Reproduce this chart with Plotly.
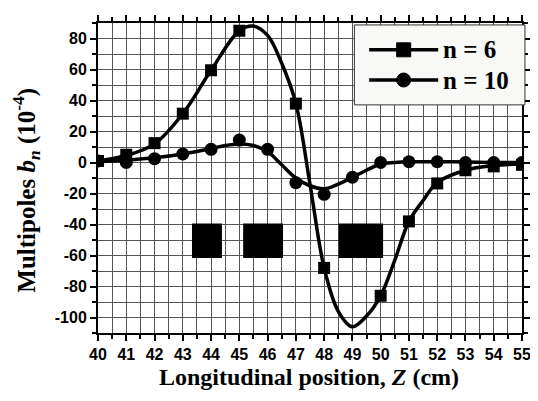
import plotly.graph_objects as go

# ---- data ----
z_n6 = [40, 41, 42, 43, 44, 45, 47, 48, 50, 51, 52, 53, 54, 55]
b_n6 = [1, 5, 12.5, 31.5, 59.5, 85, 38, -68, -86, -38, -13.5, -5, -2.5, -1.5]
z_n6_fit = [40, 41, 42, 43, 44, 45, 45.5, 46, 46.5, 47, 47.5, 48, 48.5, 49, 49.5, 50, 50.5, 51, 51.5, 52, 53, 54, 55]
b_n6_fit = [1, 4.5, 12, 31.5, 59.5, 85, 88, 82, 64, 38, -14, -68, -96, -106, -99, -86, -63, -38, -24.5, -13, -5, -2, -1]

z_n10 = [40, 41, 42, 43, 44, 45, 46, 47, 48, 49, 50, 51, 52, 53, 54, 55]
b_n10 = [1, 0, 2.5, 5.5, 8.5, 14.5, 8.5, -13, -20.5, -9.5, 0, 0.5, 0.5, 0, 0, 0]
z_n10_fit = [40, 41, 42, 43, 44, 44.5, 45, 45.5, 46, 46.5, 47, 47.5, 48, 48.5, 49, 49.5, 50, 50.5, 51, 52, 53, 54, 55]
b_n10_fit = [0.5, 1.5, 3, 5.5, 9, 11, 12, 11, 7, -1.5, -10, -15, -17, -14, -9.5, -5, -1, 0, 0.5, 0.5, 0.3, 0, 0]

# magnet blocks (z start, z end) and vertical extent
block_z_start = [43.36, 45.17, 48.55]
block_z_end = [44.35, 46.51, 50.05]
block_b_low = -61
block_b_high = -40

# tick labels
x_tick_vals = list(range(40, 56))
x_tick_text = [str(v) for v in x_tick_vals]
y_tick_vals = [80, 60, 40, 20, 0, -20, -40, -60, -80, -100]
y_tick_text = ["80", "60", "40", "20", "0", "-20", "-40", "-60", "-80", "-100"]

legend_names = ["n = 6", "n = 10"]

fig = go.Figure()

fig.add_trace(go.Scatter(x=z_n6_fit, y=b_n6_fit, mode="lines",
                         line=dict(color="black", width=3.5, shape="spline", smoothing=1.0),
                         showlegend=False, hoverinfo="skip"))
fig.add_trace(go.Scatter(x=z_n10_fit, y=b_n10_fit, mode="lines",
                         line=dict(color="black", width=3.5, shape="spline", smoothing=1.0),
                         showlegend=False, hoverinfo="skip"))
fig.add_trace(go.Scatter(x=z_n6, y=b_n6, mode="markers",
                         marker=dict(symbol="square", size=12, color="black"),
                         name=legend_names[0], showlegend=False))
fig.add_trace(go.Scatter(x=z_n10, y=b_n10, mode="markers",
                         marker=dict(symbol="circle", size=13, color="black"),
                         name=legend_names[1], showlegend=False))

shapes = []
for a, b in zip(block_z_start, block_z_end):
    shapes.append(dict(type="rect", xref="x", yref="y", x0=a, x1=b,
                       y0=block_b_low, y1=block_b_high,
                       fillcolor="black", line=dict(color="black", width=2), layer="above"))

# page offset from default body margin
OFF = 8
W, H = 538, 401
PL, PR, PT, PB = 98, 528, 15, 333  # plot area in page pixels


def px(x):
    return (x - PL) / (PR - PL)


def py(y):
    return (PB - y) / (PB - PT)


shapes.append(dict(type="rect", xref="paper", yref="paper",
                   x0=px(358), x1=px(531), y0=py(99), y1=py(17),
                   fillcolor="#f8f8f6", line=dict(color="#333333", width=1), layer="above"))
rows = [42.5, 73.5]
for i, ry in enumerate(rows):
    shapes.append(dict(type="line", xref="paper", yref="paper",
                       x0=px(373), x1=px(443), y0=py(ry), y1=py(ry),
                       line=dict(color="black", width=3.5), layer="above"))
    shapes.append(dict(type="rect" if i == 0 else "circle", xref="paper", yref="paper",
                       xsizemode="pixel", ysizemode="pixel",
                       xanchor=px(408), yanchor=py(ry),
                       x0=-7, x1=7, y0=-7, y1=7,
                       fillcolor="black", line=dict(color="black", width=1), layer="above"))

annotations = []
for i, ry in enumerate(rows):
    annotations.append(dict(xref="paper", yref="paper", x=px(446), y=py(ry),
                            xanchor="left", yanchor="middle", showarrow=False,
                            text="<b>%s</b>" % legend_names[i],
                            font=dict(family="Liberation Serif, Times New Roman, serif",
                                      size=25, color="black")))

annotations.append(dict(xref="paper", yref="paper", x=px(312), y=py(378),
                        xanchor="center", yanchor="middle", showarrow=False,
                        text="<b>Longitudinal position, <i>Z</i> (cm)</b>",
                        font=dict(family="Liberation Serif, Times New Roman, serif",
                                  size=24, color="black")))
annotations.append(dict(xref="paper", yref="paper", x=px(25), y=py(187),
                        xanchor="center", yanchor="middle", showarrow=False, textangle=-90,
                        text="<b>Multipoles <i>b<sub>n</sub></i> (10<sup>-4</sup>)</b>",
                        font=dict(family="Liberation Serif, Times New Roman, serif",
                                  size=25, color="black")))

grid_color = "#555555"
tick_font = dict(family="Liberation Sans, Arial, sans-serif", size=16,
                 color="black", weight="bold")
fig.update_layout(
    width=W - OFF, height=H - OFF,
    margin=dict(l=PL - OFF, r=W - PR, t=PT - OFF, b=H - PB),
    paper_bgcolor="white", plot_bgcolor="white",
    shapes=shapes, annotations=annotations,
    showlegend=False,
    xaxis=dict(range=[40, 55], tickmode="array", tickvals=x_tick_vals, ticktext=x_tick_text,
               showgrid=True, gridcolor=grid_color, gridwidth=1.2,
               showline=True, linecolor="black", linewidth=2, mirror="ticks",
               ticks="outside", ticklen=6, tickwidth=1.5, tickcolor="black",
               minor=dict(dtick=0.5, tick0=40, showgrid=True, gridcolor=grid_color, gridwidth=1.2,
                          ticks="outside", ticklen=4, tickwidth=1.5, tickcolor="black"),
               tickfont=tick_font, zeroline=False),
    yaxis=dict(range=[-110, 90], tickmode="array", tickvals=y_tick_vals, ticktext=y_tick_text,
               showgrid=True, gridcolor=grid_color, gridwidth=1.2,
               showline=True, linecolor="black", linewidth=2, mirror="ticks",
               ticks="outside", ticklen=6, tickwidth=1.5, tickcolor="black",
               minor=dict(dtick=10, tick0=0, showgrid=True, gridcolor=grid_color, gridwidth=1.2,
                          ticks="outside", ticklen=4, tickwidth=1.5, tickcolor="black"),
               tickfont=tick_font, zeroline=False),
)

fig.write_html("out.html")
